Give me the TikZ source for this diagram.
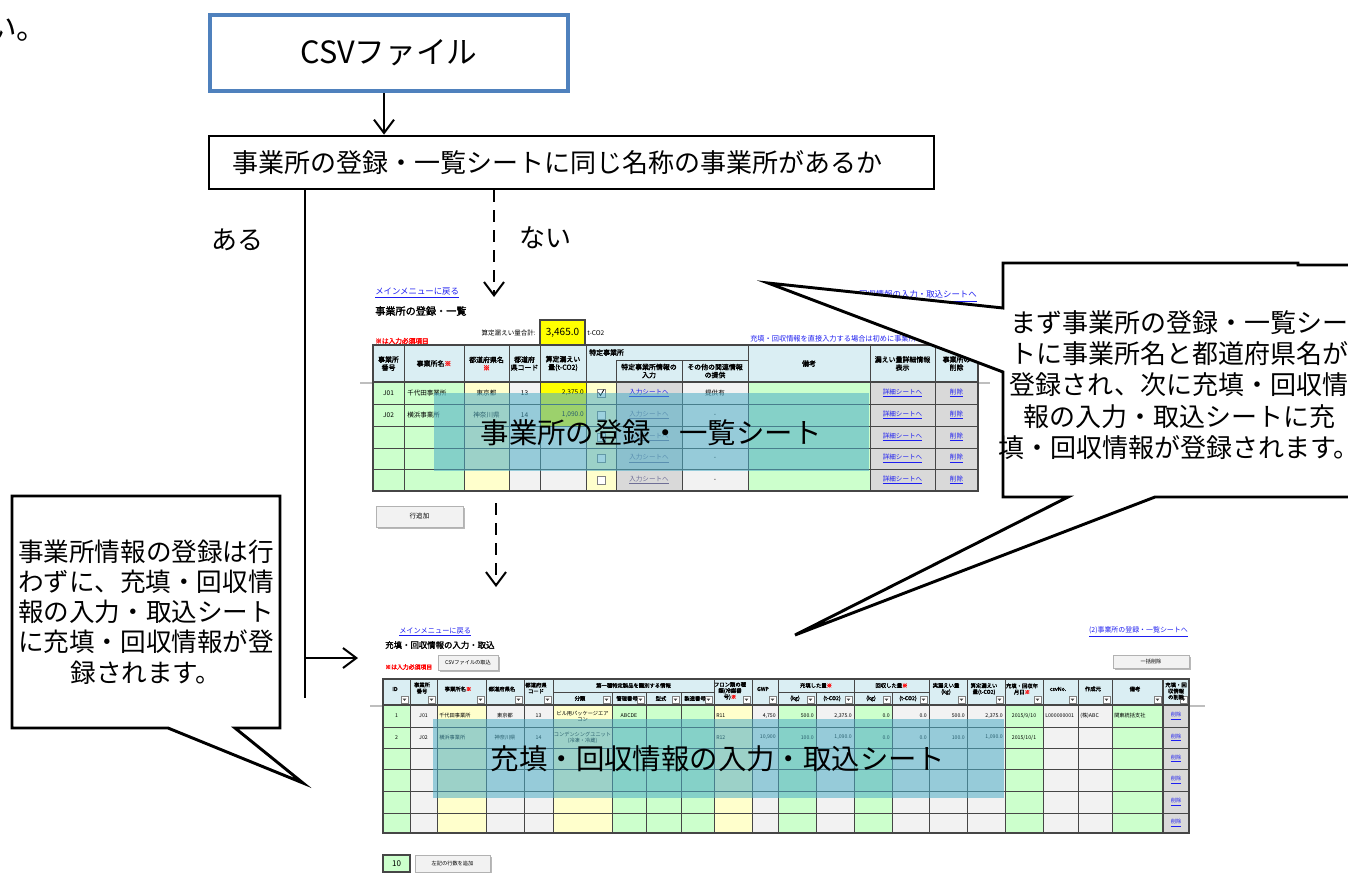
\documentclass[tikz,border=0pt]{standalone}
\usepackage{fontspec}
\setmainfont{Noto Sans CJK JP}[AutoFakeBold=2]
\usetikzlibrary{arrows.meta}
\definecolor{csvblue}{RGB}{79,129,189}
\definecolor{gfill}{RGB}{204,255,204}
\definecolor{yfill}{RGB}{255,255,204}
\definecolor{gla}{RGB}{242,242,242}
\definecolor{glb}{RGB}{217,217,217}
\definecolor{hdr}{RGB}{218,238,243}
\definecolor{ovl}{RGB}{75,172,198}
\definecolor{lnkblue}{RGB}{30,30,240}
\definecolor{tbline}{RGB}{70,70,70}
\definecolor{frz}{RGB}{190,190,190}
\definecolor{yel}{RGB}{255,255,0}
\definecolor{disl}{RGB}{110,110,150}
\newcommand{\mylink}[1]{\textcolor{lnkblue}{\underline{#1}}}
\newcommand{\dislink}[1]{\textcolor{disl}{\underline{#1}}}
\newcommand{\rk}{\textcolor{red}{※}}
\newcommand{\fsBig}{\fontsize{19.5}{23}\selectfont}
\newcommand{\fsCall}{\fontsize{19.2}{22.6}\selectfont}
\newcommand{\fsCallR}{\fontsize{19.5}{23.4}\selectfont}
\newcommand{\fsLab}{\fontsize{21.3}{24}\selectfont}
\newcommand{\fsTa}{\fontsize{6.3}{7}\selectfont}
\newcommand{\fsTh}{\fontsize{5.2}{6}\selectfont\bfseries}
\newcommand{\fsTd}{\fontsize{4.9}{5.5}\selectfont}
\newcommand{\fsBh}{\fontsize{4}{4.6}\selectfont\bfseries}
\newcommand{\fsBd}{\fontsize{3.9}{4.4}\selectfont}
\begin{document}
\begin{tikzpicture}[x=0.75pt,y=-0.75pt,
  arr/.style={line width=1.5pt,-{Straight Barb[length=10pt,width=15pt]}},
  darr/.style={arr,dash pattern=on 9pt off 6pt},
  plain/.style={line width=1.5pt},
  tbl/.style={draw=tbline,line width=0.6pt},
  th/.style={font=\fsTh,inner sep=0,align=center},
  td/.style={font=\fsTd,inner sep=0},
  bh/.style={font=\fsBh,inner sep=0,align=center},
  bd/.style={font=\fsBd,inner sep=0,align=center},
  btn/.style={fill=gla,draw=gray!60,line width=0.3pt,inner sep=0},
  overlay/.style={fill=ovl,fill opacity=0.55},
  callout/.style={draw=black,fill=white,line width=2.2pt,line join=miter}]
\useasboundingbox (0,0) rectangle (1348,872);
\fill[white] (0,0) rectangle (1348,872);

% cut-off text at top left
\node[font=\fontsize{23}{25}\selectfont,anchor=base west,inner sep=0] (cut) at (-14,39) {い。};

% ================= top sheet =================
\node[anchor=west,font=\fsTa,inner sep=0] (tm1) at (375,293) {\mylink{メインメニューに戻る}};
\node[anchor=west,font=\fontsize{7.6}{8}\selectfont\bfseries,inner sep=0] (tt1) at (375,311) {事業所の登録・一覧};
\node[anchor=east,font=\fsTd,inner sep=0] (tsum) at (536,333) {算定漏えい量合計:};
\node[draw=tbline,fill=yel,line width=0.8pt,minimum width=33.75pt,minimum height=18.75pt,inner sep=0,font=\fontsize{7.5}{8}\selectfont] (ttot) at (562.5,332.5) {\hfill3,465.0};
\node[anchor=west,font=\fsTd,inner sep=0] (tco) at (587,333) {t-CO2};
\node[anchor=west,font=\fontsize{5}{6}\selectfont\bfseries,inner sep=0,text=red] (treq) at (375,341) {※は入力必須項目};
\node[anchor=east,font=\fsTa,inner sep=0] (tlnk2) at (977,296) {\mylink{(2)充填・回収情報の入力・取込シートへ}};
\begin{scope}
\clip (745,330) rectangle (978,350);
\node[anchor=west,font=\fontsize{5.4}{6}\selectfont,inner sep=0] (tdl) at (750,340) {\mylink{充填・回収情報を直接入力する場合は初めに事業所を登録してください}};
\end{scope}

% cell fills
\foreach \xa/\xb/\cc in {373/404/gfill,404/464/gfill,464/509/yfill,509/540/gla,540/586/gla,586/616/yfill,616/682/glb,682/748/gla,748/870/gfill,870/935/glb,935/978/glb}
  \fill[\cc] (\xa,382) rectangle (\xb,491);
\fill[yel] (540,382) rectangle (586,426);
\fill[hdr] (373,345) rectangle (978,382);
% grid
\foreach \y in {404,426,448,469} \draw[tbl] (373,\y) -- (978,\y);
\foreach \x in {404,464,509,540,586,748,870,935} \draw[tbl] (\x,345) -- (\x,491);
\foreach \x in {616,682} \draw[tbl] (\x,360) -- (\x,491);
\draw[tbl] (616,360) -- (748,360);
\draw[tbl,line width=1.2pt] (373,382) -- (978,382);
\draw[tbl,line width=1.2pt] (373,345) rectangle (978,491);
\draw[frz,line width=1pt] (360,383) -- (372,383) (979,383) -- (990,383);
% header text
\node[th] (h1) at (388.5,363.5) {事業所\\番号};
\node[th] (h2) at (434,363.5) {事業所名\rk};
\node[th] (h3) at (486.5,363.5) {都道府県名\\\rk};
\node[th] (h4) at (524.5,363.5) {都道府\\県コード};
\node[th] (h5) at (563,363.5) {算定漏えい\\量(t-CO2)};
\node[th,anchor=west] (h6) at (589,352.5) {特定事業所};
\node[th] (h7) at (649,371) {特定事業所情報の\\入力};
\node[th] (h8) at (715,371) {その他の関連情報\\の提供};
\node[th] (h9) at (809,363.5) {備考};
\node[th] (h10) at (902.5,363.5) {漏えい量詳細情報\\表示};
\node[th] (h11) at (956.5,363.5) {事業所の\\削除};
% row data
\node[td] (r1a) at (388.5,393) {J01};
\node[td,anchor=west] (r1b) at (407,393) {千代田事業所};
\node[td] (r1c) at (486.5,393) {東京都};
\node[td] (r1d) at (524.5,393) {13};
\node[td,anchor=east] (r1e) at (584,393) {2,375.0};
\node[td] (r1g) at (649,393) {\mylink{入力シートへ}};
\node[td] (r1h) at (715,393) {提供有};
\node[td] (r2a) at (388.5,415) {J02};
\node[td,anchor=west] (r2b) at (407,415) {横浜事業所};
\node[td] (r2c) at (486.5,415) {神奈川県};
\node[td] (r2d) at (524.5,415) {14};
\node[td,anchor=east] (r2e) at (584,415) {1,090.0};
\foreach \yy [count=\k] in {415,437,458.5,480} {
  \node[td] (rg\k) at (649,\yy) {\dislink{入力シートへ}};
  \node[td] (rh\k) at (715,\yy) {-};
}
\foreach \yy [count=\k] in {393,415,437,458.5,480} {
  \draw[gray,fill=white,line width=0.4pt] (597,\yy-4) rectangle (605,\yy+4);
  \node[td] (rs\k) at (902.5,\yy) {\mylink{詳細シートへ}};
  \node[td] (rx\k) at (956.5,\yy) {\mylink{削除}};
}
\draw[black,line width=0.6pt] (598.5,392.5) -- (600.5,395.5) -- (604,389.5);
% button
\fill[gray!55] (378,508) rectangle (465,529);
\node[btn,minimum width=65.25pt,minimum height=15.75pt,font=\fsTd] (bt1) at (419.5,516.5) {行追加};
% overlay
\fill[overlay] (434,393) rectangle (869,471);
\node[font=\fsLab,inner sep=0] (lab1) at (651,433) {事業所の登録・一覧シート};

% ================= bottom sheet =================
\node[anchor=west,font=\fontsize{5.4}{6}\selectfont,inner sep=0] (bm1) at (399,632) {\mylink{メインメニューに戻る}};
\node[anchor=west,font=\fontsize{6.3}{7}\selectfont\bfseries,inner sep=0] (bt2) at (385,645) {充填・回収情報の入力・取込};
\node[anchor=west,font=\fontsize{4.4}{5}\selectfont\bfseries,inner sep=0,text=red] (breq) at (385,667) {※は入力必須項目};
\fill[gray!55] (440,657) rectangle (500,672);
\node[btn,minimum width=45pt,minimum height=11.25pt,font=\fsBd] (bcsv) at (468,662.5) {CSVファイルの取込};
\node[anchor=east,font=\fontsize{5.2}{6}\selectfont,inner sep=0] (blnk) at (1188,632) {\mylink{(2)事業所の登録・一覧シートへ}};
\fill[gray!55] (1115,657) rectangle (1191,670);
\node[btn,minimum width=57pt,minimum height=9.75pt,font=\fsBd] (bdel) at (1151,661.5) {一括削除};

\foreach \xa/\xb/\cc in {383/410/gfill,410/437/gla,437/486/yfill,486/524/gla,524/553/gla,553/612/yfill,612/646/gfill,646/681/gfill,681/714/gfill,714/752/yfill,752/778/gla,778/816/gfill,816/854/gla,854/892/gfill,892/929/gla,929/967/gla,967/1005/gla,1005/1043/gfill,1043/1078/gla,1078/1112/gla,1112/1163/gfill,1163/1189/glb}
  \fill[\cc] (\xa,705) rectangle (\xb,833);
\fill[hdr] (383,679) rectangle (1189,705);
\foreach \y in {727,748,769,791,813} \draw[tbl] (383,\y) -- (1189,\y);
\foreach \x in {410,437,486,524,553,714,752,778,854,929,967,1005,1043,1078,1112} \draw[tbl] (\x,679) -- (\x,833);
\foreach \x in {612,646,681,816,892} \draw[tbl] (\x,692) -- (\x,833);
\draw[tbl] (553,692) -- (714,692) (778,692) -- (929,692);
\draw[tbl,line width=1.2pt] (383,705) -- (1189,705);
\draw[tbl,line width=1.2pt] (1163,679) -- (1163,833);
\draw[tbl,line width=1.2pt] (383,679) rectangle (1189,833);
\draw[frz,line width=1pt] (370,706) -- (382,706) (1190,706) -- (1205,706);
% filter buttons
\foreach \xb in {410,437,486,524,553,612,646,681,714,752,778,816,854,892,929,967,1005,1043,1078,1112,1163,1189} {
  \draw[gray,fill=white,line width=0.3pt] (\xb-9,696) rectangle (\xb-2,703);
  \fill[black!75] (\xb-7.3,698.7) -- (\xb-3.7,698.7) -- (\xb-5.5,700.8) -- cycle;
}
% header text
\node[bh] (g1) at (395,689) {ID};
\node[bh] (g2) at (422,688) {事業所\\番号};
\node[bh] (g3) at (458,689) {事業所名\rk};
\node[bh] (g4) at (502,689) {都道府県名};
\node[bh] (g5) at (536,688) {都道府県\\コード};
\node[bh] (g6) at (633.5,685.5) {第一種特定製品を識別する情報};
\node[bh] (g6a) at (580,698.5) {分類};
\node[bh] (g6b) at (627,698.5) {管理番号};
\node[bh] (g6c) at (661,698.5) {型式};
\node[bh] (g6d) at (695,698.5) {製造番号};
\node[bh] (g10) at (730,691) {フロン類の種\\類(冷媒番\\号)\rk};
\node[bh] (g11) at (763,689) {GWP};
\node[bh] (g12) at (816,685.5) {充填した量\rk};
\node[bh] (g12a) at (795,698.5) {(kg)};
\node[bh] (g12b) at (832,698.5) {(t-CO2)};
\node[bh] (g14) at (891.5,685.5) {回収した量\rk};
\node[bh] (g14a) at (871,698.5) {(kg)};
\node[bh] (g14b) at (908,698.5) {(t-CO2)};
\node[bh] (g16) at (946,689) {実漏えい量\\(kg)};
\node[bh] (g17) at (984,689) {算定漏えい\\量(t-CO2)};
\node[bh] (g18) at (1022,689) {充填・回収年\\月日\rk};
\node[bh] (g19) at (1058,689) {csvNo.};
\node[bh] (g20) at (1093,689) {作成元};
\node[bh] (g21) at (1135,689) {備考};
\node[bh] (g22) at (1176,691) {充填・回\\収情報\\の削除};
% row data
\node[bd] (d1a) at (396.5,716) {1};
\node[bd] (d1b) at (423.5,716) {J01};
\node[bd,anchor=west] (d1c) at (439,716) {千代田事業所};
\node[bd] (d1d) at (505,716) {東京都};
\node[bd] (d1e) at (538.5,716) {13};
\node[bd] (d1f) at (582.5,716) {ビル用パッケージエア\\コン};
\node[bd] (d1g) at (629,716) {ABCDE};
\node[bd,anchor=west] (d1j) at (716,716) {R11};
\node[bd,anchor=east] (d1k) at (776,716) {4,750};
\node[bd,anchor=east] (d1l) at (814,716) {500.0};
\node[bd,anchor=east] (d1m) at (852,716) {2,375.0};
\node[bd,anchor=east] (d1n) at (890,716) {0.0};
\node[bd,anchor=east] (d1o) at (927,716) {0.0};
\node[bd,anchor=east] (d1p) at (965,716) {500.0};
\node[bd,anchor=east] (d1q) at (1003,716) {2,375.0};
\node[bd] (d1r) at (1024,716) {2015/9/10};
\node[bd,anchor=west] (d1s) at (1045,716) {L000000001};
\node[bd,anchor=west] (d1t) at (1080,716) {(株)ABC};
\node[bd,anchor=west] (d1u) at (1114,716) {関東統括支社};
\node[bd] (d2a) at (396.5,737.5) {2};
\node[bd] (d2b) at (423.5,737.5) {J02};
\node[bd,anchor=west] (d2c) at (439,737.5) {横浜事業所};
\node[bd] (d2d) at (505,737.5) {神奈川県};
\node[bd] (d2e) at (538.5,737.5) {14};
\node[bd] (d2f) at (582.5,737.5) {コンデンシングユニット\\(冷凍・冷蔵)};
\node[bd,anchor=west] (d2j) at (716,737.5) {R12};
\node[bd,anchor=east] (d2k) at (776,737.5) {10,900};
\node[bd,anchor=east] (d2l) at (814,737.5) {100.0};
\node[bd,anchor=east] (d2m) at (852,737.5) {1,090.0};
\node[bd,anchor=east] (d2n) at (890,737.5) {0.0};
\node[bd,anchor=east] (d2o) at (927,737.5) {0.0};
\node[bd,anchor=east] (d2p) at (965,737.5) {100.0};
\node[bd,anchor=east] (d2q) at (1003,737.5) {1,090.0};
\node[bd] (d2r) at (1024,737.5) {2015/10/1};
\foreach \yy [count=\k] in {716,737.5,758.5,780,802,823} \node[bd] (dx\k) at (1176,\yy) {\mylink{削除}};
% bottom controls
\node[draw=tbline,fill=gfill,line width=1pt,minimum width=20.25pt,minimum height=12.75pt,inner sep=1pt,font=\fontsize{6}{7}\selectfont] (bten) at (396.5,863.5) {\hfill10};
\fill[gray!55] (417,857) rectangle (492,874);
\node[btn,minimum width=56.25pt,minimum height=12.75pt,font=\fsBd] (badd) at (452.5,863.5) {左記の行数を追加};
% overlay
\fill[overlay] (433,719) rectangle (1004,798);
\node[font=\fsLab,inner sep=0] (lab2) at (718,759) {充填・回収情報の入力・取込シート};

% ================= flow =================
\node[draw=csvblue,line width=3.5pt,minimum width=268.5pt,minimum height=57pt,inner sep=0,font=\fontsize{23}{26}\selectfont] (csv) at (389,53) {CSVファイル};
\node[draw,line width=2pt,minimum height=39.75pt,text width=509.25pt,inner xsep=17.25pt,inner ysep=0,align=left,font=\fsBig] (dec) at (571.5,162.5) {事業所の登録・一覧シートに同じ名称の事業所があるか};
\node[font=\fsBig,inner sep=0] (aru) at (237,240) {ある};
\node[font=\fsBig,inner sep=0] (nai) at (545,238) {ない};

\coordinate (p1) at (384,0);
\draw[arr] (csv.south -| p1) -- (dec.north -| p1);
\coordinate (yes) at (305,698);
\draw[plain] (dec.south -| yes) -- (yes);
\coordinate (yesbr) at (305,658);
\coordinate (s2in) at (358,658);
\draw[arr] (yesbr) -- (s2in);
\coordinate (no1) at (494,297);
\draw[darr] (dec.south -| no1) -- (no1);
\coordinate (no2a) at (496,503);
\coordinate (no2b) at (496,587);
\draw[darr] (no2a) -- (no2b);

% ================= callouts =================
\draw[callout] (12,496) -- (280,496) -- (280,728) -- (235,728) -- (303,783) -- (168,728) -- (12,728) -- cycle;
\node[align=center,font=\fsCall,inner sep=0] (c1) at (146,612) {事業所情報の登録は行\\わずに、充填・回収情\\報の入力・取込シート\\に充填・回収情報が登\\録されます。};
\draw[callout] (1003,263) -- (1298,263) -- (1298,265) -- (1365,265) -- (1365,497) -- (1155,497) -- (795,635) -- (1068,497) -- (1003,497) -- (1003,372) -- (768,283) -- (1003,308) -- cycle;
\node[align=center,font=\fsCallR,inner sep=0] (c2) at (1179,385) {まず事業所の登録・一覧シー\\トに事業所名と都道府県名が\\登録され、次に充填・回収情\\報の入力・取込シートに充\\填・回収情報が登録されます。};
\end{tikzpicture}
\end{document}
